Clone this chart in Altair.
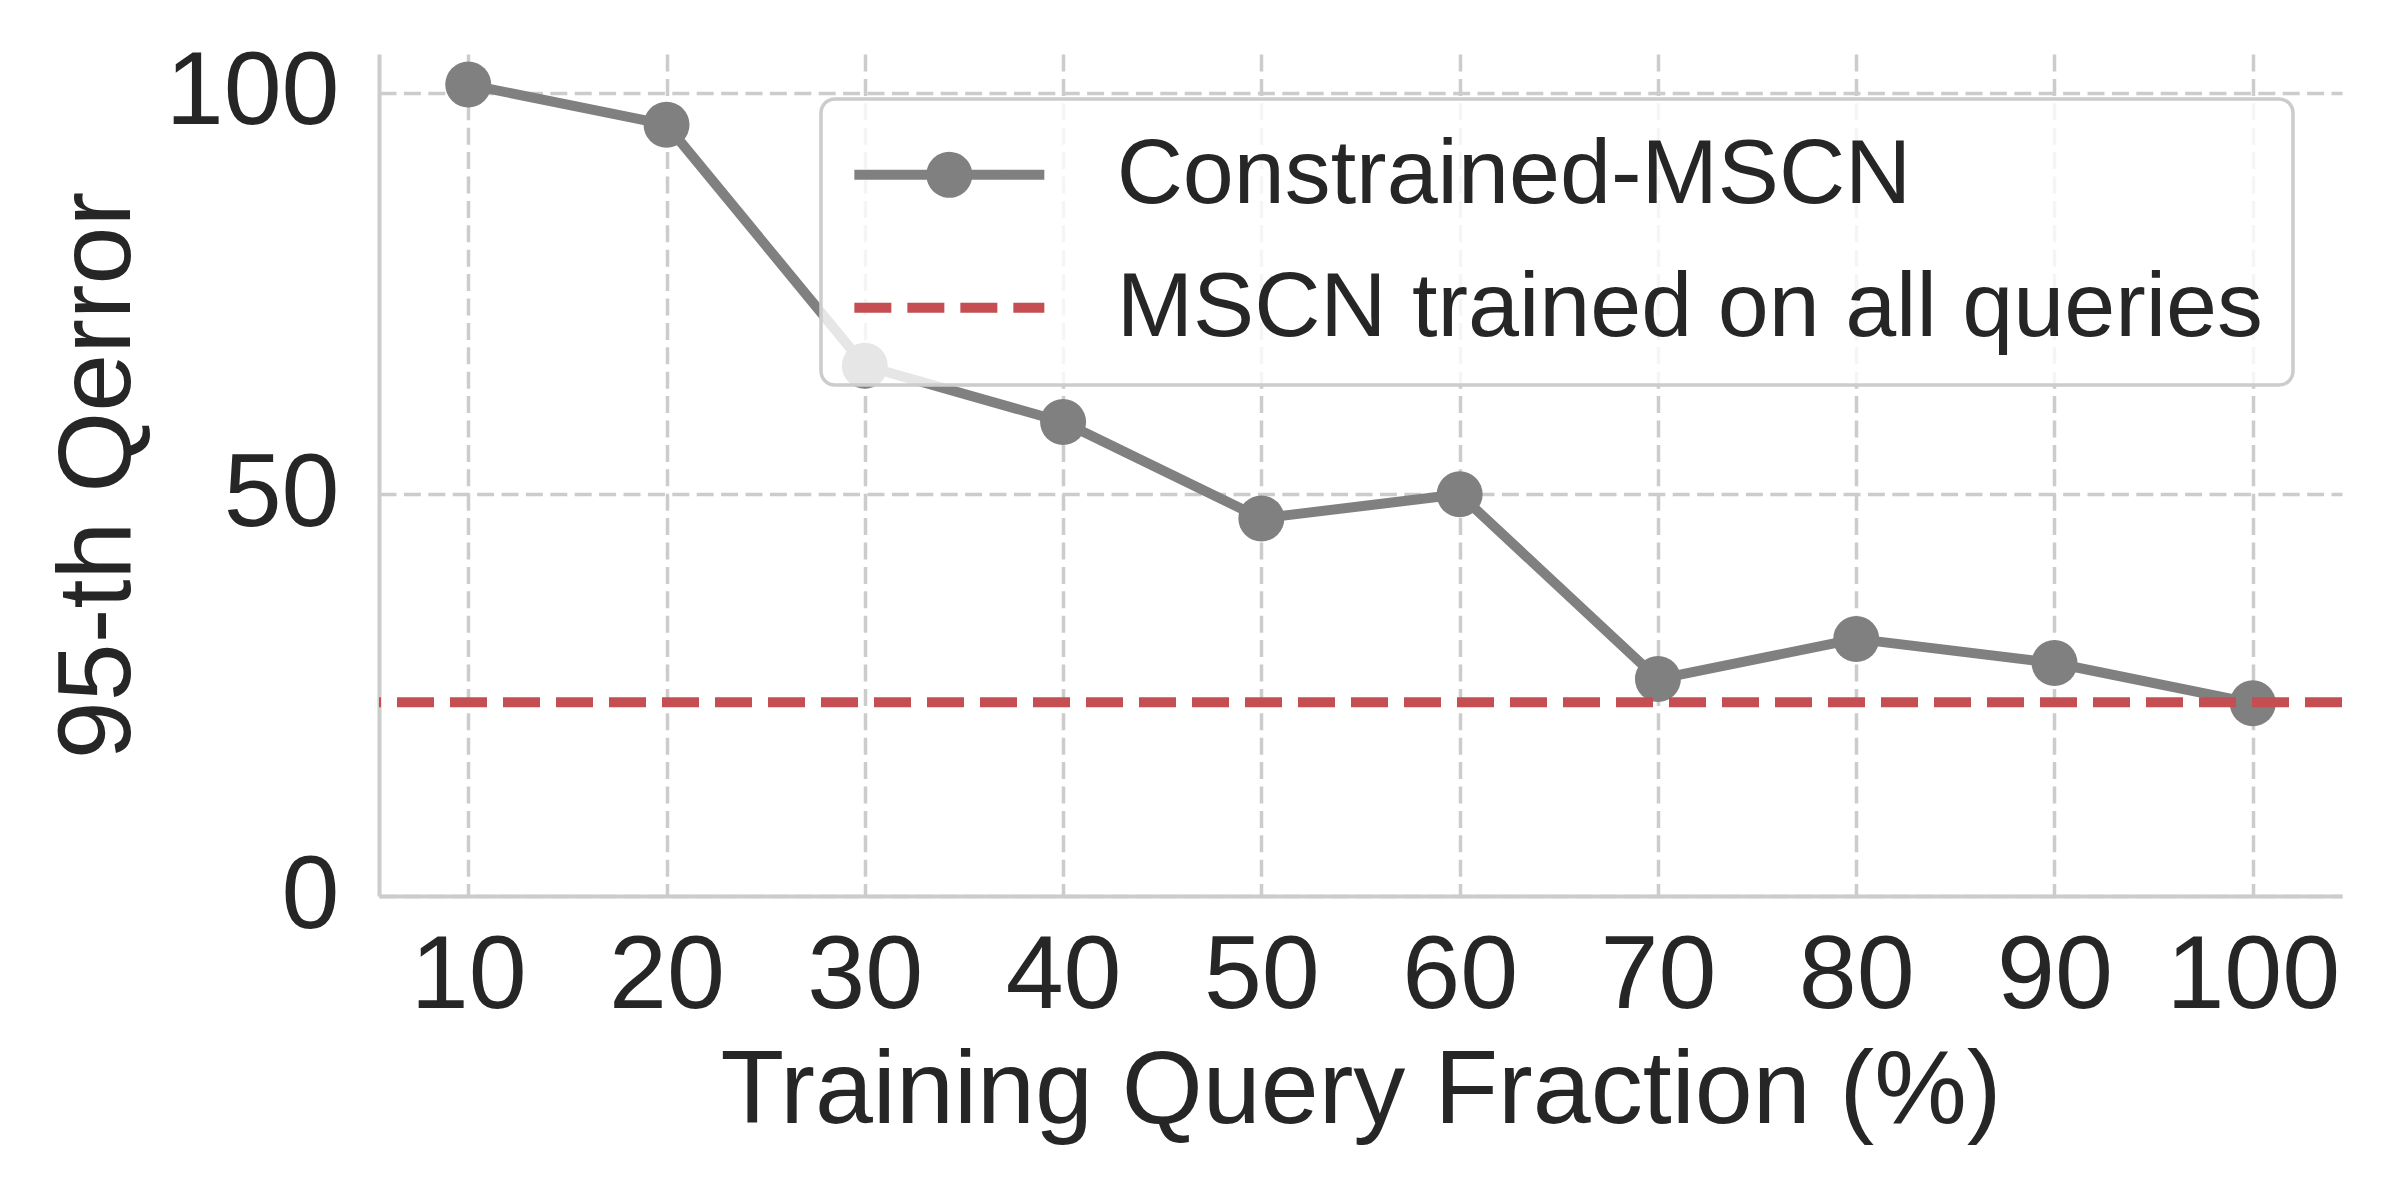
import altair as alt
import pandas as pd

# ---- data ----
fractions = [10, 20, 30, 40, 50, 60, 70, 80, 90, 100]
constrained_qerror = [101, 96, 66, 59, 47, 50, 27, 32, 29, 24]
full_mscn_qerror = [24.1]
series_names = ["Constrained-MSCN", "MSCN trained on all queries"]
series_colors = ["#808080", "#c44e52"]
x_ticks = [10, 20, 30, 40, 50, 60, 70, 80, 90, 100]
y_ticks = [0, 50, 100]
x_title = "Training Query Fraction (%)"
y_title = "95-th Qerror"

line_df = pd.DataFrame({
    "fraction": fractions,
    "qerror": constrained_qerror,
    "series": [series_names[0]] * len(fractions),
})
base_df = pd.DataFrame({"qerror": full_mscn_qerror, "series": [series_names[1]]})

FONT = "Liberation Sans"
TEXT = "#262626"
GRID = "#cccccc"
TICK_FS = 104.17
LEG_FS = 91.67

x_enc = alt.X(
    "fraction:Q",
    scale=alt.Scale(domain=[5.5, 104.5], nice=False, zero=False),
    axis=alt.Axis(values=x_ticks, title=x_title, labelPadding=29, titlePadding=12),
)
y_enc = alt.Y(
    "qerror:Q",
    scale=alt.Scale(domain=[0, 104.8], nice=False),
    axis=alt.Axis(values=y_ticks, title=y_title, labelPadding=40, titlePadding=28),
)

# legend symbol shapes (unit space, scaled by sqrt(symbolSize)/2)
PATH_LINE_DOT = (
    "M-1.123,0H3.568"
    "M1.666,0C1.666,0.245,1.467,0.444,1.222,0.444"
    "C0.977,0.444,0.778,0.245,0.778,0"
    "C0.778,-0.245,0.977,-0.444,1.222,-0.444"
    "C1.467,-0.444,1.666,-0.245,1.666,0Z"
)
PATH_LINE = "M-1.123,0H3.568"
is_first = f"datum.value === '{series_names[0]}'"

legend = alt.Legend(
    title=None,
    orient="none",
    legendX=442,
    legendY=45,
    direction="vertical",
    padding=30,
    fillColor="rgba(255,255,255,0.8)",
    strokeColor=GRID,
    cornerRadius=14,
    labelFont=FONT,
    labelFontSize=LEG_FS,
    labelColor=TEXT,
    labelLimit=3000,
    labelOffset=171,
    rowPadding=40,
    symbolSize=6561,
    symbolStrokeWidth=10,
    symbolOffset=3,
    symbolType={"expr": f"{is_first} ? '{PATH_LINE_DOT}' : '{PATH_LINE}'"},
    symbolFillColor={"expr": f"{is_first} ? '{series_colors[0]}' : 'transparent'"},
    symbolDash={"expr": f"{is_first} ? [1, 0] : [37, 16]"},
)

color_scale = alt.Scale(domain=series_names, range=series_colors)

line = alt.Chart(line_df).mark_line(
    strokeWidth=10, strokeJoin="round", strokeCap="square"
).encode(
    x=x_enc, y=y_enc, color=alt.Color("series:N", scale=color_scale, legend=legend)
)

pts = alt.Chart(line_df).mark_point(
    filled=True, size=2116, opacity=1, shape="circle"
).encode(
    x=x_enc, y=y_enc, color=alt.Color("series:N", scale=color_scale, legend=None)
)

rule = alt.Chart(base_df).mark_rule(
    strokeWidth=10, strokeDash=[37, 16]
).encode(
    y=y_enc, color=alt.Color("series:N", scale=color_scale, legend=None)
)

chart = alt.layer(line, pts, rule).properties(
    width=1963,
    height=842,
    padding={"left": 38, "top": 32, "right": 5, "bottom": 5},
    background="white",
).configure_view(
    stroke=None
).configure_axis(
    labelFont=FONT,
    titleFont=FONT,
    labelFontSize=TICK_FS,
    titleFontSize=TICK_FS,
    labelColor=TEXT,
    titleColor=TEXT,
    titleFontWeight="normal",
    ticks=False,
    tickSize=0,
    labelFlush=False,
    domainColor=GRID,
    domainWidth=4,
    gridColor=GRID,
    gridDash=[17, 7.4],
    gridWidth=3.5,
).configure_legend(
    strokeWidth=3.5,
)

chart.save("out.html", embed_options={"renderer": "svg", "actions": False})
